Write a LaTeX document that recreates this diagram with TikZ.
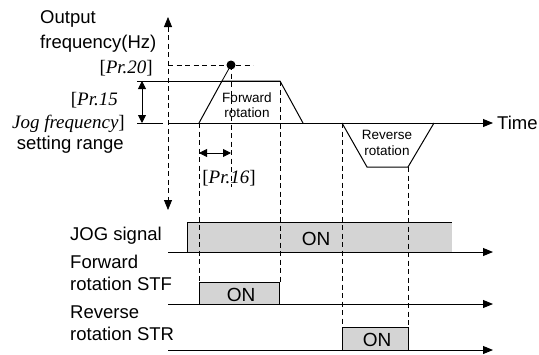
\documentclass[tikz,border=0pt]{standalone}
\usepackage{fontspec}
\setmainfont{Liberation Sans}
\newfontfamily\serifit{Liberation Serif}
\usetikzlibrary{arrows.meta}
\begin{document}
\begin{tikzpicture}[x=1pt,y=-1pt,
  lbl/.style={inner sep=0pt,font=\fontsize{18.5}{20}\selectfont},
  smalllbl/.style={inner sep=0pt,font=\fontsize{13.5}{15.5}\selectfont,align=center},
  prlbl/.style={inner sep=0pt,font=\serifit\fontsize{19}{21}\selectfont},
  onlbl/.style={inner sep=0pt,font=\fontsize{19}{21}\selectfont},
  axis/.style={line width=0.9pt,-{Triangle[length=10pt,width=8pt]}},
  dashline/.style={line width=0.8pt,dash pattern=on 5pt off 3.5pt},
  wave/.style={line width=1pt,line join=miter},
  dbl/.style={line width=0.9pt,{Triangle[length=8pt,width=8pt]}-{Triangle[length=8pt,width=8pt]}}]
\useasboundingbox (0,0) rectangle (539,354);
% coordinates
\coordinate (ytop) at (168,17);
\coordinate (ybot) at (168,210);
\coordinate (t0) at (168,123);
\coordinate (t1) at (493,123);
\coordinate (fa) at (199,123);
\coordinate (fb) at (222,81);
\coordinate (fc) at (280,81);
\coordinate (fd) at (303,123);
\coordinate (ra) at (342,123);
\coordinate (rb) at (367,167);
\coordinate (rc) at (408,167);
\coordinate (rd) at (434,123);
\coordinate (dot) at (231,65);
% ON boxes
\fill[black!17] (187,222) rectangle (452,252);
\fill[black!17] (199,282) rectangle (279,304);
\fill[black!17] (342,327) rectangle (408,350);
% dashed verticals
\draw[dashline,{Triangle[length=10pt,width=8pt]}-{Triangle[length=10pt,width=8pt]}] (ytop) -- (ybot);
\draw[dashline] (168,65) -- (253,65);
\draw[dashline] (dot) -- (231,187);
\draw[dashline] (fa) -- (199,282);
\draw[dashline] (fc) -- (280,282);
\draw[dashline] (ra) -- (342,327);
\draw[dashline] (rc) -- (408,327);
% time axis and waveform
\draw[axis] (t0) -- (t1);
\draw[line width=0.9pt] (137,123) -- (163,123);
\draw[line width=0.9pt] (137,81) -- (fc);
\draw[wave] (fa) -- (fb) -- (fc) -- (fd);
\draw[wave] (ra) -- (rb) -- (rc) -- (rd);
\draw[line width=0.8pt] (fb) -- (dot);
\fill (dot) circle (4.5pt);
\draw[dbl] (142,81) -- (142,123);
\draw[dbl] (199,153) -- (231,153);
% signal axes
\draw[axis] (168,252) -- (493,252);
\draw[axis] (168,304) -- (493,304);
\draw[axis] (168,350) -- (493,350);
\draw[line width=0.9pt] (187,252) -- (187,222) -- (452,222);
\draw[line width=0.9pt] (199,304) -- (199,282) -- (279,282) -- (279,304);
\draw[line width=0.9pt] (342,350) -- (342,327) -- (408,327) -- (408,350);
% labels
\node[lbl,anchor=west] (l1) at (40,19) {Output};
\node[lbl,anchor=west] (l2) at (40,44) {frequency(Hz)};
\node[prlbl,anchor=east] (l3) at (153,68) {[\textit{Pr.20}]};
\node[prlbl,anchor=east] (l4) at (118,100) {[\textit{Pr.15}};
\node[prlbl,anchor=east] (l5) at (125,124) {\textit{Jog frequency}]};
\node[lbl,anchor=east] (l6) at (124,145) {setting range};
\node[prlbl] (l7) at (229,178) {[\textit{Pr.16}]};
\node[lbl,anchor=west] (time) at (497,123) {Time};
\node[smalllbl] (fw) at (247,105) {Forward\\rotation};
\node[smalllbl] (rv) at (387,143) {Reverse\\rotation};
\node[lbl,anchor=west] (s1) at (70,236) {JOG signal};
\node[lbl,anchor=west] (s2) at (70,262) {Forward};
\node[lbl,anchor=west] (s3) at (70,284) {rotation STF};
\node[lbl,anchor=west] (s4) at (70,312) {Reverse};
\node[lbl,anchor=west] (s5) at (70,334) {rotation STR};
\node[onlbl] (on1) at (316,239) {ON};
\node[onlbl] (on2) at (241,295) {ON};
\node[onlbl] (on3) at (377,340) {ON};
\end{tikzpicture}
\end{document}
